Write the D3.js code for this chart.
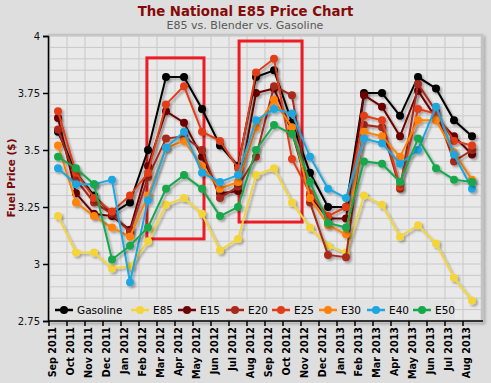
<!DOCTYPE html>
<html>
<head>
<meta charset="utf-8">
<script src="https://cdn.jsdelivr.net/npm/d3@7"></script>
<style>
  html, body { margin: 0; padding: 0; background: #dedede; }
  svg { display: block; }
  text { font-family: "DejaVu Sans", Verdana, sans-serif; }
</style>
</head>
<body>
<svg id="chart" width="491" height="383"></svg>
<script>
const months = ["Sep 2011","Oct 2011","Nov 2011","Dec 2011","Jan 2012","Feb 2012","Mar 2012","Apr 2012","May 2012","Jun 2012","Jul 2012","Aug 2012","Sep 2012","Oct 2012","Nov 2012","Dec 2012","Jan 2013","Feb 2013","Mar 2013","Apr 2013","May 2013","Jun 2013","Jul 2013","Aug 2013"];
const seriesNames = ["Gasoline","E85","E15","E20","E25","E30","E40","E50"];
const seriesColors = ["#000000","#f3d53b","#6b0505","#a8291a","#e23d17","#ff8208","#1ba7e1","#15a84b"];
const gasoline = [3.58,3.40,3.30,3.22,3.27,3.50,3.82,3.82,3.68,3.52,3.43,3.82,3.85,3.62,3.40,3.25,3.25,3.75,3.75,3.65,3.82,3.77,3.63,3.56];
const e85      = [3.21,3.05,3.05,2.98,2.99,3.10,3.26,3.29,3.22,3.06,3.11,3.39,3.42,3.27,3.16,3.08,3.05,3.30,3.26,3.12,3.17,3.09,2.94,2.84];
const e15      = [3.64,3.31,3.22,3.21,3.15,3.43,3.67,3.62,3.47,3.31,3.32,3.75,3.77,3.58,3.30,3.20,3.20,3.74,3.69,3.56,3.76,3.64,3.56,3.48];
const e20      = [3.59,3.37,3.27,3.22,3.14,3.38,3.55,3.56,3.50,3.29,3.34,3.47,3.78,3.74,3.27,3.04,3.03,3.61,3.60,3.33,3.79,3.67,3.45,3.50];
const e25      = [3.67,3.40,3.29,3.23,3.30,3.40,3.70,3.78,3.58,3.54,3.42,3.84,3.90,3.46,3.31,3.21,3.25,3.65,3.63,3.34,3.68,3.66,3.54,3.52];
const e30      = [3.52,3.27,3.21,3.16,3.12,3.30,3.51,3.54,3.43,3.33,3.36,3.60,3.72,3.60,3.29,3.17,3.13,3.58,3.56,3.47,3.63,3.63,3.49,3.37];
const e40      = [3.42,3.35,3.35,3.37,2.92,3.28,3.51,3.58,3.40,3.36,3.39,3.63,3.68,3.66,3.47,3.33,3.29,3.55,3.53,3.44,3.50,3.69,3.48,3.33];
const e50      = [3.47,3.42,3.35,3.02,3.08,3.16,3.33,3.39,3.33,3.21,3.25,3.50,3.61,3.57,3.36,3.18,3.16,3.45,3.44,3.36,3.55,3.42,3.37,3.36];
const seriesValues = [gasoline,e85,e15,e20,e25,e30,e40,e50];
const yTicks = [2.75,3,3.25,3.5,3.75,4];
const yMinor = d3.range(2.75, 4.0001, 0.05);
// highlight boxes: [start index, end index, top value, bottom value]
const boxes = [[4.94,8.11,3.904,3.110],[10.06,13.56,3.978,3.184]];
const titleText = "The National E85 Price Chart";
const subtitleText = "E85 vs. Blender vs. Gasoline";
const yTitle = "Fuel Price ($)";

const svg = d3.select("#chart");
const L = 49, R = 481, T = 36, B = 321;

const x = d3.scaleBand().domain(months).range([L, R]).padding(0);
const bw = x.bandwidth();
const cx = m => x(m) + bw / 2;
const xi = d3.scaleLinear().domain([0, months.length]).range([L, R]);
const y = d3.scaleLinear().domain([2.75, 4]).range([B, T]);

const defs = svg.append("defs");
const f = defs.append("filter").attr("id","shadow").attr("x","-10%").attr("y","-10%").attr("width","130%").attr("height","130%");
f.append("feDropShadow").attr("dx",2).attr("dy",2).attr("stdDeviation",1.2).attr("flood-color","#000").attr("flood-opacity",0.3);
const f2 = defs.append("filter").attr("id","frameShadow").attr("x","-5%").attr("y","-5%").attr("width","110%").attr("height","110%");
f2.append("feDropShadow").attr("dx",2).attr("dy",2).attr("stdDeviation",1.5).attr("flood-color","#000").attr("flood-opacity",0.25);

// plot area
svg.append("rect").attr("x", L).attr("y", T - 1).attr("width", R - L + 1).attr("height", B - T + 1)
  .attr("fill", "#e9e9e9").attr("stroke", "#c3c3c3").attr("stroke-width", 2.5).attr("filter","url(#frameShadow)");

// grid
const grid = svg.append("g");
grid.selectAll("line.h").data(yMinor).join("line")
  .attr("x1", L).attr("x2", R).attr("y1", d => y(d)).attr("y2", d => y(d))
  .attr("stroke", "#c9c9c9").attr("stroke-width", 1);
grid.selectAll("line.v").data(months.slice(1)).join("line")
  .attr("x1", d => x(d)).attr("x2", d => x(d)).attr("y1", T).attr("y2", B)
  .attr("stroke", "#c9c9c9").attr("stroke-width", 1);

// highlight boxes
svg.append("g").selectAll("rect").data(boxes).join("rect")
  .attr("x", d => xi(d[0] + 0.5)).attr("y", d => y(d[2]))
  .attr("width", d => xi(d[1] + 0.5) - xi(d[0] + 0.5)).attr("height", d => y(d[3]) - y(d[2]))
  .attr("fill", "none").attr("stroke", "#ec1c24").attr("stroke-width", 3);

// series
const line = d3.line().x((d, i) => cx(months[i])).y(d => y(d));
const sg = svg.append("g");
seriesValues.forEach((vals, k) => {
  const g = sg.append("g").attr("filter", "url(#shadow)");
  g.append("path").datum(vals).attr("d", line).attr("fill", "none")
    .attr("stroke", seriesColors[k]).attr("stroke-width", 2);
  g.selectAll("circle").data(vals).join("circle")
    .attr("cx", (d, i) => cx(months[i])).attr("cy", d => y(d)).attr("r", 4)
    .attr("fill", seriesColors[k]);
});

// axes
const yAxis = svg.append("g").attr("transform", `translate(${L - 1},0)`)
  .call(d3.axisLeft(y).tickValues(yTicks).tickSize(5).tickPadding(3).tickFormat(d => String(+d.toFixed(2))));
yAxis.select(".domain").attr("stroke", "#000").attr("stroke-width", 1.5);
yAxis.selectAll(".tick line").attr("stroke", "#000").attr("stroke-width", 1.5);
yAxis.selectAll(".tick text").attr("font-size", 10).attr("fill", "#111").attr("font-family", "DejaVu Sans");

const xAxis = svg.append("g").attr("transform", `translate(0,${B})`)
  .call(d3.axisBottom(x).tickSize(5).tickSizeOuter(0));
xAxis.select(".domain").attr("stroke", "#000").attr("stroke-width", 1.5).attr("d", `M${L - 1},0H${R + 2}`);
xAxis.selectAll(".tick line").attr("stroke", "#000").attr("stroke-width", 1.5).attr("x1", -bw / 2).attr("x2", -bw / 2);
xAxis.selectAll(".tick text")
  .attr("font-size", 9.6).attr("font-weight", "bold").attr("fill", "#000").attr("font-family", "DejaVu Sans")
  .attr("text-anchor", "end").attr("dy", 0).attr("y", 0)
  .attr("transform", "translate(-2,6) rotate(-90)");

// titles
const t = svg.append("text").attr("x", 245.5).attr("y", 16).attr("text-anchor", "middle")
  .attr("font-weight", "bold").attr("font-size", 14).attr("fill", "#850a0a").text(titleText);
const tw = t.node().getComputedTextLength();
t.attr("font-size", 14 * 216 / tw);
const st = svg.append("text").attr("x", 245).attr("y", 29).attr("text-anchor", "middle")
  .attr("font-size", 11).attr("fill", "#585858").text(subtitleText);
const sw = st.node().getComputedTextLength();
st.attr("font-size", 11 * 157 / sw);
svg.append("text").attr("transform", "translate(15,178) rotate(-90)").attr("text-anchor", "middle")
  .attr("font-weight", "bold").attr("font-size", 10.5).attr("fill", "#7a0a0a").text(yTitle);

// legend
const lg = svg.append("g");
lg.append("rect").attr("x", 50).attr("y", 300).attr("width", 405).attr("height", 19).attr("fill", "#e2e2e2");
const legX = [64, 140, 187, 235, 281, 328, 376, 422];
seriesNames.forEach((n, k) => {
  const g = lg.append("g").attr("transform", `translate(${legX[k]},310)`);
  g.append("line").attr("x1", -9).attr("x2", 9).attr("stroke", seriesColors[k]).attr("stroke-width", 2.5);
  g.append("circle").attr("r", 4).attr("fill", seriesColors[k]);
  g.append("text").attr("x", 13).attr("y", 4).attr("font-size", 10.5).attr("fill", "#000").text(n);
});
</script>
</body>
</html>
